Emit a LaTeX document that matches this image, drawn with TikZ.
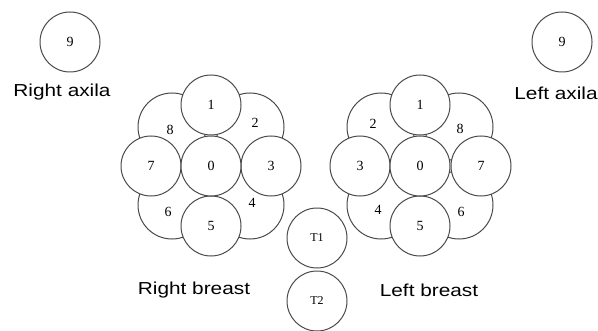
\documentclass[tikz,border=0pt]{standalone}
\usepackage{fontspec}
\setmainfont{Liberation Serif}
\newfontfamily\labfont[FakeStretch=1.2]{Liberation Sans}
\definecolor{linegray}{HTML}{4A4A4A}
\begin{document}
\begin{tikzpicture}[x=0.75pt,y=-0.75pt,
  zone/.style={circle,draw=linegray,fill=white,line width=0.75pt,inner sep=0pt,
    minimum size=45pt,font=\fontsize{10.5}{12}\selectfont},
  bigzone/.style={zone,minimum size=51pt},
  tzone/.style={zone,font=\fontsize{9}{10}\selectfont},
  num/.style={inner sep=0pt,font=\fontsize{10.5}{12}\selectfont},
  lab/.style={inner sep=0pt,font=\labfont\fontsize{13}{15}\selectfont}]
\useasboundingbox (0,0) rectangle (598,331);
\fill[white] (0,0) rectangle (598,331);

% axillae
\node[zone] (ra9) at (70,42) {9};
\node[lab] (ratext) at (62,92) {Right axila};
\node[zone] (la9) at (562,42) {9};
\node[lab] (latext) at (556,93) {Left axila};

% right breast, centre (211,166)
\node[bigzone] (r8) at (172,127) {};
\node[bigzone] (r2) at (250,127) {};
\node[bigzone] (r4) at (250,205) {};
\node[bigzone] (r6) at (172,205) {};
\node[num] (r8t) at (170,130) {8};
\node[num] (r2t) at (255,123) {2};
\node[num] (r4t) at (252,203) {4};
\node[num] (r6t) at (168,212) {6};
\node[zone] (r1) at (211,105) {1};
\node[zone] (r3) at (271,166) {3};
\node[zone] (r5) at (211,226) {5};
\node[zone] (r7) at (151,166) {7};
\node[zone] (r0) at (211,166) {0};
\node[lab] (rbtext) at (194,290) {Right breast};

% left breast, centre (420,166)
\node[bigzone] (l2) at (381,127) {};
\node[bigzone] (l8) at (459,127) {};
\node[bigzone] (l6) at (459,205) {};
\node[bigzone] (l4) at (381,205) {};
\node[num] (l2t) at (373,124) {2};
\node[num] (l8t) at (460,129) {8};
\node[num] (l4t) at (378,210) {4};
\node[num] (l6t) at (461,212) {6};
\node[zone] (l1) at (420,105) {1};
\node[zone] (l3) at (360,166) {3};
\node[zone] (l5) at (420,226) {5};
\node[zone] (l7) at (481,166) {7};
\node[zone] (l0) at (420,166) {0};
\node[lab] (lbtext) at (429,290) {Left breast};

% T1, T2
\node[tzone] (t1) at (317,238) {T1};
\node[tzone] (t2) at (317,301) {T2};
\end{tikzpicture}
\end{document}
